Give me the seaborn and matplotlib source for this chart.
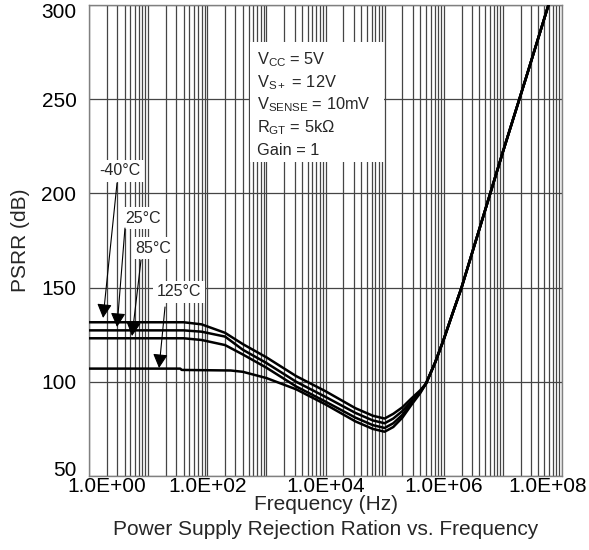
import numpy as np
import pandas as pd
import matplotlib
matplotlib.use("Agg")
import matplotlib.pyplot as plt
from matplotlib.ticker import FixedLocator, NullFormatter
from matplotlib.patches import Rectangle
from matplotlib.transforms import ScaledTranslation
import seaborn as sns

# ---------------- data ----------------
rise_freq = [5e5, 7.1e5, 1e6, 1.4e6, 2e6, 4e6, 1e7, 2.5e7, 5.9e7]
rise_psrr = [99.0, 110.0, 122.5, 136.0, 150.0, 181.0, 222.0, 262.0, 300.0]

freq_m40 = [1, 40, 80, 200, 400, 1e3, 3.2e3, 1e4, 3.2e4, 6.3e4, 1e5, 1.4e5, 2e5, 2.8e5, 4e5]
psrr_m40 = [131.6, 131.6, 130.5, 126.0, 120.0, 113.0, 103.0, 95.0, 86.0, 82.0, 80.5, 83.0, 86.5, 91.0, 95.5]

freq_25 = [1, 40, 80, 200, 400, 1e3, 3.2e3, 1e4, 3.2e4, 6.3e4, 1e5, 1.4e5, 2e5, 2.8e5, 4e5]
psrr_25 = [127.3, 127.3, 126.6, 124.0, 117.0, 110.0, 100.0, 92.0, 83.5, 79.5, 78.0, 80.5, 84.5, 89.5, 95.0]

freq_85 = [1, 40, 80, 200, 400, 1e3, 3.2e3, 1e4, 3.2e4, 6.3e4, 1e5, 1.4e5, 2e5, 2.8e5, 4e5]
psrr_85 = [123.1, 123.1, 122.2, 119.5, 114.5, 107.5, 97.5, 89.5, 81.0, 77.0, 75.5, 78.0, 82.5, 88.5, 94.5]

freq_125 = [1, 35, 37, 250, 400, 1e3, 3.2e3, 1e4, 3.2e4, 6.3e4, 1e5, 1.4e5, 2e5, 2.8e5, 4e5]
psrr_125 = [107.0, 107.0, 106.3, 106.0, 105.3, 102.0, 96.0, 88.0, 79.0, 75.0, 73.5, 76.0, 81.0, 87.5, 94.0]

temps = ["-40°C", "25°C", "85°C", "125°C"]

x_ticks = [1e0, 1e1, 1e2, 1e3, 1e4, 1e5, 1e6, 1e7, 1e8]
x_tick_labels = ["1.0E+00", "", "1.0E+02", "", "1.0E+04", "", "1.0E+06", "", "1.0E+08"]
y_ticks = [50, 100, 150, 200, 250, 300]

conditions = [r"V$_\mathregular{CC}$ = 5V",
              r"V$_\mathregular{S+}$ = 12V",
              r"V$_\mathregular{SENSE}$ = 10mV",
              r"R$_\mathregular{GT}$ = 5k$\mathregular{\Omega}$",
              "Gain = 1"]

# ---------------- build table ----------------
rows = []
for t, fr, ps in zip(temps, [freq_m40, freq_25, freq_85, freq_125],
                     [psrr_m40, psrr_25, psrr_85, psrr_125]):
    for f, p in zip(fr + rise_freq, ps + rise_psrr):
        rows.append({"freq": f, "psrr": p, "temp": t})
df = pd.DataFrame(rows)

# ---------------- style ----------------
sns.set_style("white")
plt.rcParams["font.family"] = ["Liberation Sans", "DejaVu Sans"]
plt.rcParams["mathtext.fontset"] = "custom"
plt.rcParams["mathtext.rm"] = "Liberation Sans"

fig = plt.figure(figsize=(5.89, 5.5), dpi=100)
ax = fig.add_axes([89/589, 1 - 476/550, (562 - 89)/589, (476 - 5)/550])

sns.lineplot(data=df, x="freq", y="psrr", hue="temp", palette=["black"] * 4,
             legend=False, lw=1.8, sort=False, estimator=None, ax=ax, zorder=5)

ax.set_xscale("log")
ax.set_xlim(1, 1e8)
ax.set_ylim(50, 300)

ax.xaxis.set_major_locator(FixedLocator(x_ticks))
ax.set_xticklabels(x_tick_labels)
minor = [m * d for d in x_ticks[:-1] for m in range(2, 10)]
ax.xaxis.set_minor_locator(FixedLocator(minor))
ax.xaxis.set_minor_formatter(NullFormatter())
ax.set_yticks(y_ticks)
ax.set_yticklabels([str(v) for v in y_ticks])

ax.grid(True, which="major", axis="both", color="#454545", lw=0.9)
ax.grid(True, which="minor", axis="x", color="#454545", lw=0.9)
ax.set_axisbelow(True)

ax.tick_params(axis="both", which="both", length=0, labelsize=15, colors="black")
ax.tick_params(axis="x", pad=1)
ax.tick_params(axis="y", pad=9)

# end tick labels pulled inward, as in the reference
xl = ax.get_xticklabels()
xl[0].set_transform(xl[0].get_transform() + ScaledTranslation(18/100, 0, fig.dpi_scale_trans))
xl[-1].set_transform(xl[-1].get_transform() + ScaledTranslation(-14/100, 0, fig.dpi_scale_trans))
yl = ax.get_yticklabels()
yl[0].set_transform(yl[0].get_transform() + ScaledTranslation(0, 8/100, fig.dpi_scale_trans))
yl[-1].set_transform(yl[-1].get_transform() + ScaledTranslation(0, -5/100, fig.dpi_scale_trans))

for s in ax.spines.values():
    s.set_color("#808080")
    s.set_linewidth(1.0)

ax.set_xlabel("Frequency (Hz)", fontsize=15, labelpad=-1)
ax.set_ylabel("PSRR (dB)", fontsize=15, labelpad=8)
ax.text(0.5, -0.113, "Power Supply Rejection Ration vs. Frequency", transform=ax.transAxes,
        ha="center", va="center", fontsize=15)

# conditions box
ax.add_patch(Rectangle((0.340, 0.667), 0.284, 0.254, transform=ax.transAxes,
                       facecolor="white", edgecolor="none", zorder=3))
for i, line in enumerate(conditions):
    ax.text(0.355, 0.883 - i * 0.0478, line, transform=ax.transAxes,
            fontsize=11.8, va="center", ha="left", zorder=4)

# temperature annotations
ann_text = [(3.35, 211.9), (8.2, 186.9), (12.1, 171.0), (33.3, 147.7)]
ann_tail = [(2.98, 205.5), (4.06, 181.6), (7.58, 164.6), (19.3, 139.7)]
ann_tip = [(1.73, 133.9), (2.98, 129.1), (5.34, 124.3), (15.3, 107.3)]
for t, (tx, ty), tail, tip in zip(temps, ann_text, ann_tail, ann_tip):
    ax.text(tx, ty, t, fontsize=11.5, ha="center", va="center", zorder=6,
            bbox=dict(facecolor="white", edgecolor="none", pad=2.5))
    ax.annotate("", xy=tip, xytext=tail, zorder=7,
                arrowprops=dict(arrowstyle="-|>,head_length=0.85,head_width=0.45",
                                color="black", lw=0.8, shrinkA=0, shrinkB=0))

fig.savefig("out.png", dpi=100)
